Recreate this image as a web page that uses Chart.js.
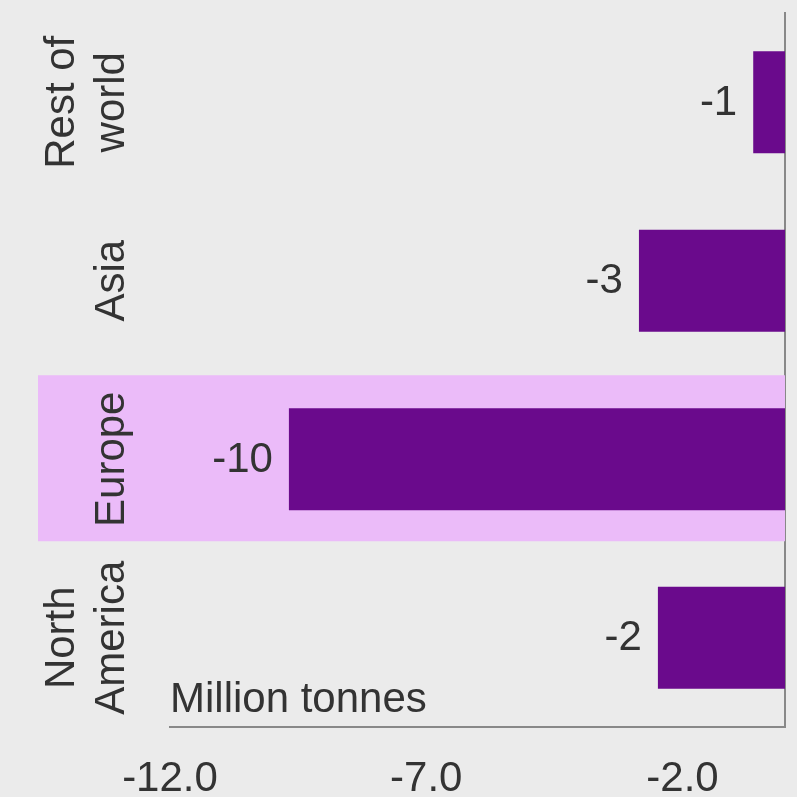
<!DOCTYPE html>
<html>
<head>
<meta charset="utf-8">
<script src="https://cdn.jsdelivr.net/npm/chart.js@4.4.1/dist/chart.umd.min.js"></script>
<style>
  html, body { margin: 0; padding: 0; background: #ebebeb; }
  #wrap { width: 797px; height: 797px; position: relative; }
</style>
</head>
<body>
<div id="wrap"><canvas id="c" width="797" height="797"></canvas></div>
<script>
const categories = ["Rest of world", "Asia", "Europe", "North America"];
const categoryLines = [["Rest of", "world"], ["Asia"], ["Europe"], ["North", "America"]];
const values = [-0.62, -2.85, -9.68, -2.48];
const valueLabels = ["-1", "-3", "-10", "-2"];
const xTicks = [-12, -7, -2];
const highlighted = "Europe";
const unitLabel = "Million tonnes";

const FONT = "'Liberation Sans', Arial, sans-serif";
const TEXT = "#333333";
const FS = 42;

const decor = {
  id: "decor",
  beforeDatasetsDraw(chart) {
    const ctx = chart.ctx, y = chart.scales.y, area = chart.chartArea;
    const idx = categories.indexOf(highlighted);
    const cy = y.getPixelForValue(idx) - 1;
    const half = (y.getPixelForValue(1) - y.getPixelForValue(0)) * 0.465;
    ctx.save();
    ctx.fillStyle = "#ebbbf9";
    ctx.fillRect(38, cy - half, area.right - 38, half * 2);
    ctx.restore();
  },
  afterDatasetsDraw(chart) {
    const ctx = chart.ctx, y = chart.scales.y, area = chart.chartArea;
    const meta = chart.getDatasetMeta(0);
    ctx.save();
    ctx.fillStyle = TEXT;
    ctx.font = FS + "px " + FONT;
    // value labels
    ctx.textAlign = "right";
    ctx.textBaseline = "middle";
    meta.data.forEach((bar, i) => {
      ctx.fillText(valueLabels[i], bar.x - 16, bar.y + 1);
    });
    // category labels (rotated)
    categoryLines.forEach((lines, i) => {
      const cy = y.getPixelForValue(i);
      ctx.save();
      ctx.translate(124, cy);
      ctx.rotate(-Math.PI / 2);
      ctx.textAlign = "center";
      ctx.textBaseline = "alphabetic";
      const n = lines.length;
      lines.forEach((ln, k) => {
        ctx.fillText(ln, 0, -(n - 1 - k) * 50);
      });
      ctx.restore();
    });
    // unit label
    ctx.textAlign = "left";
    ctx.textBaseline = "alphabetic";
    ctx.fillText(unitLabel, area.left, area.bottom - 15);
    ctx.restore();
  }
};

new Chart(document.getElementById("c"), {
  type: "bar",
  data: {
    labels: categories,
    datasets: [{
      data: values,
      backgroundColor: "#6a0a8c",
      borderWidth: 0,
      barPercentage: 0.571,
      categoryPercentage: 1.0
    }]
  },
  plugins: [decor],
  options: {
    indexAxis: "y",
    responsive: false,
    animation: false,
    events: [],
    layout: { padding: { left: 170, top: 13, right: 12, bottom: 0 } },
    plugins: { legend: { display: false }, tooltip: { enabled: false } },
    scales: {
      x: {
        min: -12, max: 0,
        afterBuildTicks: s => { s.ticks = xTicks.map(v => ({ value: v })); },
        afterFit: s => { s.height = 70; },
        grid: { display: false, drawTicks: false },
        border: { display: true, color: "#888888", width: 2 },
        ticks: {
          color: TEXT,
          font: { family: FONT, size: FS },
          padding: 27,
          maxRotation: 0, minRotation: 0,
          autoSkip: false,
          callback: v => Number(v).toFixed(1)
        }
      },
      y: {
        position: "right",
        afterFit: s => { s.width = 0; },
        grid: { display: false, drawTicks: false },
        border: { display: true, color: "#888888", width: 2 },
        ticks: { display: false }
      }
    }
  }
});
</script>
</body>
</html>
